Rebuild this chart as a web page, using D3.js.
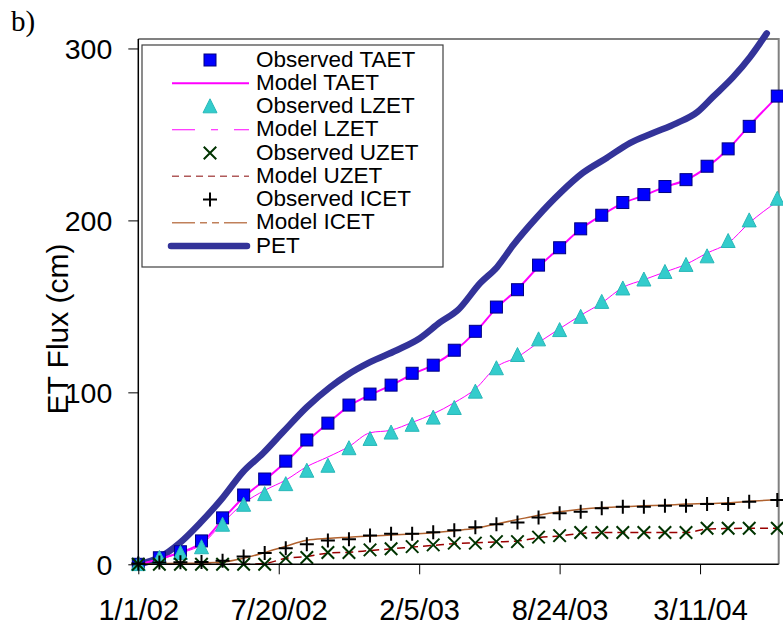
<!DOCTYPE html>
<html>
<head>
<meta charset="utf-8">
<script src="https://cdn.jsdelivr.net/npm/d3@7/dist/d3.min.js"></script>
<style>
  html, body { margin: 0; padding: 0; background: #fff; }
  svg { display: block; }
  text { font-family: "Liberation Sans", Arial, sans-serif; fill: #000; }
</style>
</head>
<body>
<svg id="chart" width="783" height="626"></svg>
<script>
// Cumulative evapotranspiration, observed (30-day samples) and modelled
const startDate = new Date(2002, 0, 1);

// days since 1 Jan 2002 for each observation / model sample
const obsDay = [0, 30, 60, 90, 120, 150, 180, 210, 240, 270, 300, 330, 360, 390, 420,
  450, 480, 510, 540, 570, 600, 630, 660, 690, 720, 750, 780, 810, 840, 870, 910];

const obsTAET = [0, 3.8, 7.3, 13.6, 27, 40.3, 49.6, 60, 72.3, 82.1, 92.6, 99, 104.2, 111.1, 115.8,
  124.5, 135.5, 149.6, 159.7, 174, 184.1, 195.1, 203, 210.4, 215, 219.7, 223.7, 231.5, 241.6, 254.7, 272.3];
const modelTAET = [0, 3, 7, 12.5, 26, 39, 49, 59.5, 71.5, 82, 92, 98.5, 104, 110.5, 116,
  124, 135, 149, 160, 173, 184, 195, 203, 210, 214.5, 219.5, 223.5, 231, 241.5, 255, 272];

const obsLZET = [0, 3.6, 6.5, 9.8, 22.9, 34.5, 40.7, 46.5, 54.3, 57.2, 67.4, 72.8, 76.5, 81, 85.2,
  90.8, 100.3, 113.9, 121.6, 130.7, 136.1, 143.8, 152.5, 160.3, 165.5, 169.9, 174, 179, 187.9, 199.9, 212.5];
const modelLZET = [0, 3, 6.5, 11.5, 24, 35.5, 43, 49, 56.8, 62.4, 68.5, 76.5, 78, 82.5, 87.5,
  94, 102, 114.8, 120.6, 129, 137, 144.8, 152, 161, 165.5, 170, 174.5, 181, 186.8, 198.5, 211];

const obsUZET = [0, 0, 0, 0, 0, 0, 0, 3.6, 4, 6.9, 6.9, 8.4, 9, 10.3, 11.3,
  12.3, 12.3, 13.2, 13.2, 15.8, 16.7, 18.5, 18.5, 18.5, 18.5, 18.5, 18.5, 21, 21, 21, 21];
const modelUZET = [0, 0, 0, 0, 0, 0, 0.5, 3.5, 4.5, 6.5, 7, 8, 9, 10, 11,
  12, 12.5, 13, 13.5, 15.5, 16.5, 18, 18.5, 18.5, 18.5, 18.5, 18.5, 20.5, 20.8, 21, 21];

const obsICET = [0.5, 1, 1.2, 1.3, 2, 4.5, 6.5, 9.4, 11.7, 13.8, 14.6, 16.7, 17.7, 17.7, 18.7,
  19.8, 21.6, 23.3, 24.3, 27.2, 29.7, 30.6, 32.6, 33.5, 33.5, 34, 34.1, 35.1, 35.1, 36.4, 37.4];
const modelICET = [0, 0.3, 0.6, 0.8, 1.3, 3.5, 6.8, 10.5, 14, 15.1, 15.8, 16.5, 17, 17.6, 18.3,
  19.5, 20.9, 23.5, 26, 28.5, 30.5, 32, 33, 33.5, 34, 34.4, 35, 35.3, 35.8, 36.6, 37.6];

// potential ET, sampled along the daily record
const petDay = [0, 31, 59, 88, 121, 149, 178, 206, 240, 273, 297, 330, 368, 401, 430, 455,
  487, 511, 534, 568, 601, 633, 667, 700, 733, 767, 796, 818, 847, 871, 895];
const PET = [0, 4.2, 12.4, 24, 39.1, 53.7, 64.7, 76.9, 91.4, 103, 110, 117.6, 124.5, 131.5, 140.8, 147.8,
  163.6, 172.9, 185.7, 202, 216, 227.6, 236.3, 245, 250.8, 256.6, 263, 271.7, 283.3, 294.9, 308.8];

const xTickDates = ["2002-01-01", "2002-07-20", "2003-02-05", "2003-08-24", "2004-03-11"];
const xTickLabels = ["1/1/02", "7/20/02", "2/5/03", "8/24/03", "3/11/04"];
const yTicks = [0, 100, 200, 300];

const legendLabels = ["Observed TAET", "Model TAET", "Observed LZET", "Model LZET",
  "Observed UZET", "Model UZET", "Observed ICET", "Model ICET", "PET"];

// ---- layout ----
const svg = d3.select("#chart");
const plot = { left: 138.3, right: 778.7, top: 39, bottom: 564.3 };

const dayToDate = d => d3.timeDay.offset(startDate, d);
const parse = d3.timeParse("%Y-%m-%d");

const x = d3.scaleTime()
  .domain([startDate, new Date(2004, 6, 1)])
  .range([plot.left, plot.right]);
const y = d3.scaleLinear()
  .domain([0, 305.5])
  .range([plot.bottom, plot.top]);

const seriesPts = (days, vals) => days.map((d, i) => ({ x: x(dayToDate(d)), y: y(vals[i]) }));

// plot frame: grey top/right edges
svg.append("path")
  .attr("d", `M${plot.left},${plot.top}H${plot.right}V${plot.bottom}`)
  .attr("fill", "none").attr("stroke", "#808080").attr("stroke-width", 2);

// ---- lines ----
const line = d3.line().x(d => d.x).y(d => d.y).curve(d3.curveMonotoneX);

const g = svg.append("g");

g.append("path").datum(seriesPts(petDay, PET))
  .attr("d", line).attr("fill", "none")
  .attr("stroke", "#333399").attr("stroke-width", 6.5)
  .attr("stroke-linejoin", "round").attr("stroke-linecap", "round");

g.append("path").datum(seriesPts(obsDay, modelTAET))
  .attr("d", line).attr("fill", "none")
  .attr("stroke", "#ff00ff").attr("stroke-width", 2);

g.append("path").datum(seriesPts(obsDay, modelLZET))
  .attr("d", line).attr("fill", "none")
  .attr("stroke", "#ff00ff").attr("stroke-width", 1);

g.append("path").datum(seriesPts(obsDay, modelUZET))
  .attr("d", line).attr("fill", "none")
  .attr("stroke", "#990000").attr("stroke-width", 1.5)
  .attr("stroke-dasharray", "8,5");

g.append("path").datum(seriesPts(obsDay, modelICET))
  .attr("d", line).attr("fill", "none")
  .attr("stroke", "#b0622f").attr("stroke-width", 1.5);

// ---- markers ----
function square(sel, s) {
  sel.append("rect")
    .attr("x", d => d.x - s / 2).attr("y", d => d.y - s / 2)
    .attr("width", s).attr("height", s)
    .attr("fill", "#0000ff").attr("stroke", "#000080").attr("stroke-width", 1);
}
function triangle(sel, s) {
  sel.append("path")
    .attr("d", d => `M${d.x},${d.y - s * 0.55}L${d.x + s / 2},${d.y + s * 0.45}L${d.x - s / 2},${d.y + s * 0.45}Z`)
    .attr("fill", "#33cccc").attr("stroke", "#29b8b8").attr("stroke-width", 1);
}
function cross(sel, s) {
  sel.append("path")
    .attr("d", d => `M${d.x - s / 2},${d.y - s / 2}L${d.x + s / 2},${d.y + s / 2}M${d.x - s / 2},${d.y + s / 2}L${d.x + s / 2},${d.y - s / 2}`)
    .attr("stroke", "#003300").attr("stroke-width", 2).attr("fill", "none");
}
function plus(sel, s) {
  sel.append("path")
    .attr("d", d => `M${d.x - s / 2},${d.y}H${d.x + s / 2}M${d.x},${d.y - s / 2}V${d.y + s / 2}`)
    .attr("stroke", "#000").attr("stroke-width", 2).attr("fill", "none");
}

g.append("g").selectAll("g").data(seriesPts(obsDay, obsTAET)).join("g").call(square, 12);
g.append("g").selectAll("g").data(seriesPts(obsDay, obsLZET)).join("g").call(triangle, 14);
g.append("g").selectAll("g").data(seriesPts(obsDay, obsUZET)).join("g").call(cross, 12.5);
g.append("g").selectAll("g").data(seriesPts(obsDay, obsICET)).join("g").call(plus, 14);

// ---- axes ----
const yAxis = d3.axisLeft(y).tickValues(yTicks).tickSize(10).tickFormat(d3.format("d"));
const yG = svg.append("g").attr("transform", `translate(${plot.left},0)`).call(yAxis);
yG.select(".domain").attr("d", `M0,${plot.top}V${plot.bottom}`).attr("stroke", "#000").attr("stroke-width", 1.5);
yG.selectAll(".tick line").attr("stroke", "#000").attr("stroke-width", 1);
yG.selectAll(".tick text")
  .attr("x", -26).attr("dy", "0.35em")
  .style("font-size", "28.5px").style("font-family", "'Liberation Sans', Arial, sans-serif");

const xAxis = d3.axisBottom(x)
  .tickValues(xTickDates.map(parse))
  .tickSize(10)
  .tickFormat((d, i) => xTickLabels[i]);
const xG = svg.append("g").attr("transform", `translate(0,${plot.bottom})`).call(xAxis);
xG.select(".domain").attr("d", `M${plot.left},0H${plot.right}`).attr("stroke", "#000").attr("stroke-width", 1.5);
xG.selectAll(".tick line").attr("stroke", "#000").attr("stroke-width", 1);
xG.selectAll(".tick text")
  .attr("y", 56).attr("dy", null)
  .style("font-size", "29px").style("font-family", "'Liberation Sans', Arial, sans-serif");

// axis title
svg.append("text")
  .attr("transform", "translate(68,329) rotate(-90)")
  .attr("text-anchor", "middle")
  .style("font-size", "30px")
  .text("ET Flux (cm)");

// panel letter
svg.append("text")
  .attr("x", 11).attr("y", 31)
  .style("font-family", "'Liberation Serif', 'Times New Roman', serif")
  .style("font-size", "29px")
  .text("b)");

// ---- legend ----
const lg = svg.append("g");
lg.append("rect")
  .attr("x", 142).attr("y", 45).attr("width", 301).attr("height", 222)
  .attr("fill", "#fff").attr("stroke", "#404040").attr("stroke-width", 1.2);

const rowBase = i => 66.7 + i * 23.25;
const symY = i => rowBase(i) - 6.7;
const symX = 210, lx0 = 172, lx1 = 249;

legendLabels.forEach((label, i) => {
  lg.append("text")
    .attr("x", 256).attr("y", rowBase(i))
    .style("font-size", "22.5px")
    .text(label);
});

lg.append("g").datum([{ x: symX, y: symY(0) }]).selectAll("g").data(d => d).join("g").call(square, 12);
lg.append("g").datum([{ x: symX, y: symY(2) }]).selectAll("g").data(d => d).join("g").call(triangle, 14);
lg.append("g").datum([{ x: symX, y: symY(4) }]).selectAll("g").data(d => d).join("g").call(cross, 12.5);
lg.append("g").datum([{ x: symX, y: symY(6) }]).selectAll("g").data(d => d).join("g").call(plus, 14);

const legendLine = (i, color, w, dash, cap) => {
  lg.append("line")
    .attr("x1", lx0).attr("x2", lx1).attr("y1", symY(i)).attr("y2", symY(i))
    .attr("stroke", color).attr("stroke-width", w)
    .attr("stroke-dasharray", dash || null)
    .attr("stroke-linecap", cap || "butt");
};
legendLine(1, "#ff00ff", 2);
legendLine(3, "#ff00ff", 1, "23,16,7,16");
legendLine(5, "#b05a5a", 1.5, "7,5");
legendLine(7, "#c0805a", 1.5, "23,5,7,5,7,5");
lg.append("line")
  .attr("x1", lx0 - 1).attr("x2", lx1 - 2).attr("y1", symY(8)).attr("y2", symY(8))
  .attr("stroke", "#333399").attr("stroke-width", 6.5).attr("stroke-linecap", "round");
</script>
</body>
</html>
